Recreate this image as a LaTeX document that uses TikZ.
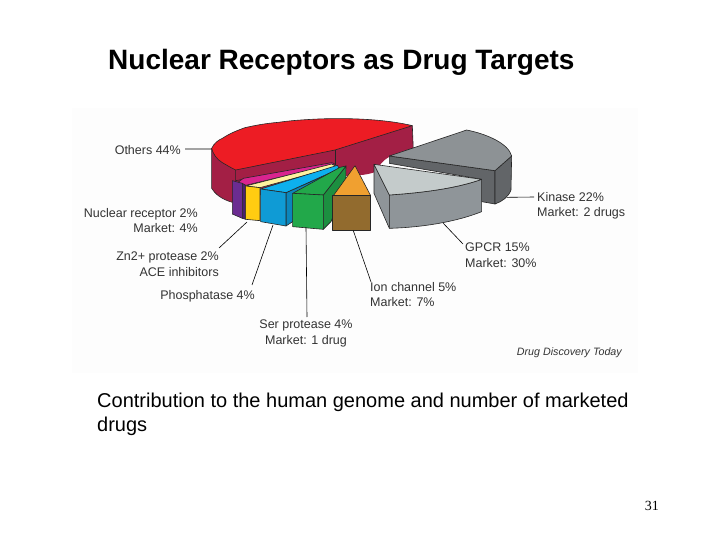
\documentclass[tikz,border=0pt]{standalone}
\usepackage{fontspec}
\setmainfont{Liberation Sans}
\newfontfamily\serifnum{Liberation Serif}
\definecolor{pagebg}{HTML}{FDFDFD}
\definecolor{redtop}{HTML}{ED1C24}
\definecolor{maroon}{HTML}{A31F45}
\definecolor{kintop}{HTML}{8D9295}
\definecolor{kinside}{HTML}{626568}
\definecolor{gpcrtop}{HTML}{C4CBCB}
\definecolor{gpcrside}{HTML}{8F9599}
\definecolor{purp}{HTML}{6B2C91}
\definecolor{purpdark}{HTML}{4A2070}
\definecolor{magen}{HTML}{D9248F}
\definecolor{yel}{HTML}{FFCC11}
\definecolor{paleyel}{HTML}{FFF2A0}
\definecolor{bluefront}{HTML}{0F9BD5}
\definecolor{bluetop}{HTML}{0DB0EE}
\definecolor{bluedark}{HTML}{0B86BC}
\definecolor{greenfront}{HTML}{22A84A}
\definecolor{greenside}{HTML}{1C8F40}
\definecolor{orang}{HTML}{F0A030}
\definecolor{brownf}{HTML}{926B2E}
\definecolor{labelc}{HTML}{333333}
\tikzset{
  facet/.style={draw=black!85,line width=.6pt,line join=round},
  leader/.style={draw=black,line width=.6pt},
  lab/.style={inner sep=0pt,text=labelc,font=\fontsize{12.5}{15.5}\selectfont,align=left},
  labr/.style={lab,align=right},
  headline/.style={inner sep=0pt,font=\fontsize{28}{32}\selectfont\bfseries,text=black},
  bodytext/.style={inner sep=0pt,font=\fontsize{20}{24}\selectfont,text=black,anchor=base west}
}
\begin{document}
\begin{tikzpicture}[x=1pt,y=-1pt]
\useasboundingbox (0,0) rectangle (720,540);
\fill[white] (0,0) rectangle (720,540);
\fill[pagebg] (72,108) rectangle (638,373);
\node[headline,anchor=base west] (title) at (108,70) {Nuclear Receptors as Drug Targets};
\begin{scope}[xshift=200pt,yshift=-110pt,x=.33333pt,y=-.33333pt]
 % red slice
 \path[fill=maroon] (35,115) -- (35,235) .. controls (45,252) and (65,268) .. (97,277) -- (400,200) -- (480,195) .. controls (495,195) and (515,190) .. (525,186) .. controls (535,170) and (550,150) .. (565,142) -- (640,120) -- (637,47) -- cycle;
 \draw[facet] (35,115) -- (35,235) .. controls (45,252) and (65,268) .. (97,277);
 \draw[facet] (637,47) -- (640,122);
 \draw[facet] (107,180) -- (107,212) -- (395,160);
 \draw[facet] (405,120) -- (405,165);
 \path[facet,fill=redtop] (35,115) .. controls (42,100) and (55,90) .. (67,85) .. controls (90,70) and (110,62) .. (135,53) .. controls (170,45) and (200,40) .. (235,37) .. controls (270,32) and (300,30) .. (335,28) .. controls (440,22) and (560,28) .. (637,47) -- (405,120) -- (107,180) .. controls (90,172) and (80,165) .. (67,158) .. controls (50,148) and (38,130) .. cycle;
 % small slices
 \path[facet,fill=magen] (110,220) -- (130,205) -- (395,158) -- (405,162) -- (137,226) -- (127,222) -- cycle;
 \path[facet,fill=purpdark] (127,220) -- (137,226) -- (137,328) -- (127,325) -- cycle;
 \path[facet,fill=purp] (97,212) -- (127,220) -- (127,325) -- (97,312) -- cycle;
 \path[facet,fill=paleyel] (137,228) -- (395,162) -- (410,170) -- (180,233) -- cycle;
 \path[facet,fill=yel] (137,228) -- (180,233) -- (180,332) -- (137,328) -- cycle;
 \path[facet,fill=bluedark] (258,248) -- (417,178) -- (417,190) -- (278,335) -- (258,348) -- cycle;
 \path[facet,fill=bluetop] (182,237) -- (412,166) -- (418,176) -- (258,248) -- cycle;
 \path[facet,fill=bluefront] (182,237) -- (258,248) -- (258,348) -- (182,335) -- cycle;
 \path[facet,fill=greenside] (370,255) -- (438,168) -- (437,225) -- (393,335) -- (370,358) -- cycle;
 \path[facet,fill=greenfront] (278,250) -- (420,172) -- (438,168) -- (370,255) -- cycle;
 \path[facet,fill=greenfront] (278,250) -- (370,255) -- (370,358) -- (278,350) -- cycle;
 \path[facet,fill=orang] (465,167) -- (512,257) -- (400,257) -- cycle;
 \path[facet,fill=brownf] (398,257) -- (512,257) -- (512,360) -- (398,360) -- cycle;
 % kinase
 \path[facet,fill=kinside] (568,138) -- (885,182) -- (885,282) -- (845,275) -- (845,208) -- (568,160) -- cycle;
 \path[facet,fill=kinside] (885,182) -- (935,138) -- (933,240) .. controls (925,262) and (905,275) .. (885,282) -- cycle;
 \path[facet,fill=kintop] (568,138) -- (800,60) .. controls (860,72) and (925,100) .. (935,138) -- (885,182) -- cycle;
 % gpcr
 \path[facet,fill=gpcrside] (522,163) -- (568,255) -- (568,355) -- (522,250) -- cycle;
 \path[facet,fill=gpcrside] (568,255) .. controls (670,248) and (770,235) .. (845,208) -- (845,305) .. controls (770,335) and (670,352) .. (568,355) -- cycle;
 \path[facet,fill=gpcrtop] (522,163) -- (845,208) .. controls (770,235) and (670,248) .. (568,255) -- cycle;
 % leader anchors on the pie
 \coordinate (pOthers) at (35,117);
 \coordinate (pKinase) at (920,262);
 \coordinate (pGpcr) at (730,340);
 \coordinate (pIon) at (460,362);
 \coordinate (pSer) at (318,352);
 \coordinate (pPhos) at (219,345);
 \coordinate (pZn) at (141,336);
\end{scope}
% labels
\node[labr,anchor=east] (others) at (181,150) {Others 44\%};
\node[lab,anchor=north west] (kinase) at (537,192) {Kinase 22\%\\Market: 2 drugs};
\node[lab,anchor=north west] (gpcr) at (465,243) {GPCR 15\%\\Market: 30\%};
\node[lab,anchor=north west] (ion) at (370,282) {Ion channel 5\%\\Market: 7\%};
\node[lab,align=center,anchor=north] (ser) at (306,320) {Ser protease 4\%\\Market: 1 drug};
\node[labr,anchor=north east] (phos) at (255,290) {Phosphatase 4\%};
\node[labr,anchor=north east] (zn) at (219,252) {Zn2+ protease 2\%\\ACE inhibitors};
\node[labr,anchor=north east] (nuc) at (198,208) {Nuclear receptor 2\%\\Market: 4\%};
\node[lab,anchor=east,font=\fontsize{10.7}{12}\selectfont\itshape] (source) at (622,353) {Drug Discovery Today};
% leaders
\coordinate (eOthers) at (185,149);
\coordinate (eKinase) at (534,197);
\coordinate (eGpcr) at (463,244);
\coordinate (eIon) at (371,282);
\coordinate (eSer) at (307,317);
\coordinate (ePhos) at (252,285);
\coordinate (eZn) at (219,248);
\draw[leader] (eOthers) -- (pOthers);
\draw[leader] (eKinase) -- (pKinase);
\draw[leader] (eGpcr) -- (pGpcr);
\draw[leader] (eIon) -- (pIon);
\draw[leader] (eSer) -- (pSer);
\draw[leader] (ePhos) -- (pPhos);
\draw[leader] (eZn) -- (pZn);
% text below
\node[bodytext] (line1) at (97,407) {Contribution to the human genome and number of marketed};
\node[bodytext] (line2) at (97,431) {drugs};
\node[inner sep=0pt,font=\serifnum\fontsize{14}{16}\selectfont,anchor=base east] (pageno) at (659,510) {31};
\end{tikzpicture}
\end{document}
